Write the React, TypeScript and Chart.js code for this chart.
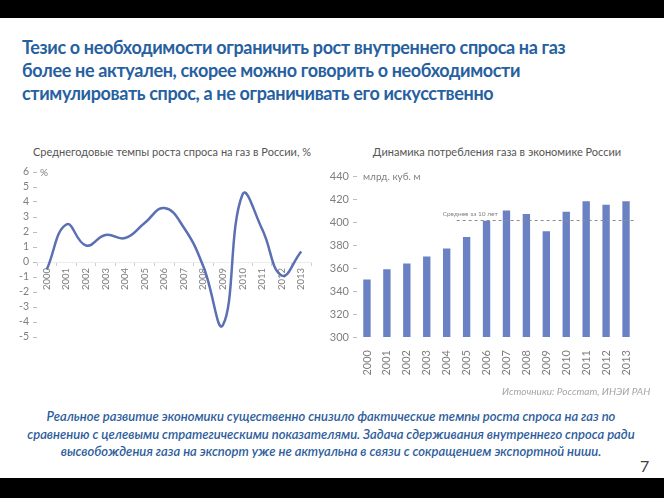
import React, { useEffect, useRef } from 'react';
import { Chart, registerables } from 'chart.js';

Chart.register(...registerables);

// ---- data ----
const years = ['2000', '2001', '2002', '2003', '2004', '2005', '2006', '2007', '2008', '2009', '2010', '2011', '2012', '2013'];
const growthPct = [-0.5, 2.5, 1.1, 1.8, 1.6, 2.6, 3.6, 2.3, -0.3, -4.2, 4.5, 2.2, -0.9, 0.7];
const growthMin = -5;
const growthMax = 6;
const growthStep = 1;

const consumption = [350, 359, 364, 370, 377, 387, 401, 410, 407, 392, 409, 418, 415, 418];
const consumptionMin = 300;
const consumptionMax = 440;
const consumptionStep = 20;
const tenYearAverage = 401.5;
const averageFromIndex = 4.5;
const averageLabel = 'Среднее за 10 лет';

const titleLines = [
  'Тезис о необходимости ограничить рост внутреннего спроса на газ',
  'более не актуален, скорее можно говорить о необходимости',
  'стимулировать спрос, а не ограничивать его искусственно',
];
const leftTitle = 'Среднегодовые темпы роста спроса на газ в России, %';
const rightTitle = 'Динамика потребления газа в экономике России';
const leftUnit = '%';
const rightUnit = 'млрд. куб. м';
const sourceText = 'Источники: Росстат, ИНЭИ РАН';
const bottomLines = [
  'Реальное развитие экономики существенно снизило фактические темпы роста спроса на газ по',
  'сравнению с целевыми стратегическими показателями. Задача сдерживания внутреннего спроса ради',
  'высвобождения газа на экспорт уже не актуальна в связи с сокращением экспортной ниши.',
];
const pageNumber = '7';

const FONT = 'Lato, "Open Sans", "Noto Sans", sans-serif';
const GRAY = '#7f7f7f';
const BLUE = '#27609f';

Chart.defaults.font.family = FONT;

const averageLinePlugin = {
  id: 'averageLine',
  afterDatasetsDraw(chart: any) {
    const { ctx, scales } = chart;
    const x = scales.x;
    const y = scales.y;
    const yy = Math.round(y.getPixelForValue(tenYearAverage)) + 0.5;
    const step = x.getPixelForValue(1) - x.getPixelForValue(0);
    const x0 = x.getPixelForValue(Math.floor(averageFromIndex)) + step * (averageFromIndex - Math.floor(averageFromIndex));
    const x1 = x.right;
    ctx.save();
    ctx.strokeStyle = '#8c8c8c';
    ctx.lineWidth = 1;
    ctx.setLineDash([3, 3]);
    ctx.beginPath();
    ctx.moveTo(x0, yy);
    ctx.lineTo(x1, yy);
    ctx.stroke();
    ctx.setLineDash([]);
    ctx.font = `6.5px ${FONT}`;
    ctx.fillStyle = '#808080';
    ctx.textBaseline = 'middle';
    ctx.textAlign = 'left';
    ctx.fillText(averageLabel, x0 - 14, yy - 7);
    ctx.restore();
  },
};

function GrowthChart() {
  const ref = useRef<HTMLCanvasElement>(null);
  useEffect(() => {
    const chart = new Chart(ref.current as HTMLCanvasElement, {
      type: 'line',
      data: {
        labels: years,
        datasets: [
          {
            data: growthPct,
            borderColor: '#5b6fb3',
            borderWidth: 2.5,
            tension: 0.45,
            pointRadius: 0,
            fill: false,
          },
        ],
      },
      options: {
        animation: false,
        responsive: false,
        maintainAspectRatio: false,
        layout: { padding: { left: 0, right: 19, top: 12, bottom: 13 } },
        plugins: { legend: { display: false }, tooltip: { enabled: false } },
        scales: {
          x: {
            position: { y: 0 } as any,
            offset: true,
            grid: { display: true, drawOnChartArea: false, tickLength: 3, color: '#d0d0d0', offset: true },
            border: { display: true, color: '#ececec' },
            ticks: { autoSkip: false, minRotation: 90, maxRotation: 90, color: GRAY, font: { size: 9.5 }, padding: 3 },
          },
          y: {
            min: growthMin,
            max: growthMax,
            ticks: { stepSize: growthStep, autoSkip: false, color: GRAY, font: { size: 10.5 }, padding: 4 },
            grid: { drawOnChartArea: false, tickLength: 4, color: '#bdbdbd' },
            border: { display: false },
            afterFit: (s: any) => {
              s.width = 37;
            },
          },
        },
      },
    });
    return () => chart.destroy();
  }, []);
  return <canvas ref={ref} width={330} height={190} style={{ position: 'absolute', left: 0, top: 160, width: 330, height: 190 }} />;
}

function ConsumptionChart() {
  const ref = useRef<HTMLCanvasElement>(null);
  useEffect(() => {
    const chart = new Chart(ref.current as HTMLCanvasElement, {
      type: 'bar',
      data: {
        labels: years,
        datasets: [
          {
            data: consumption,
            backgroundColor: '#6a82c3',
            categoryPercentage: 1,
            barPercentage: 0.37,
          },
        ],
      },
      options: {
        animation: false,
        responsive: false,
        maintainAspectRatio: false,
        layout: { padding: { left: 0, right: 28, top: 16, bottom: 13 } },
        plugins: { legend: { display: false }, tooltip: { enabled: false } },
        scales: {
          x: {
            grid: { display: false },
            border: { display: false },
            ticks: { autoSkip: false, minRotation: 90, maxRotation: 90, color: GRAY, font: { size: 11 }, padding: 5 },
            afterFit: (s: any) => {
              s.height = 40;
            },
          },
          y: {
            min: consumptionMin,
            max: consumptionMax,
            ticks: { stepSize: consumptionStep, autoSkip: false, color: GRAY, font: { size: 11 }, padding: 4 },
            grid: { drawOnChartArea: false, tickLength: 4, color: '#bdbdbd' },
            border: { display: false },
            afterFit: (s: any) => {
              s.width = 37;
            },
          },
        },
      },
      plugins: [averageLinePlugin],
    });
    return () => chart.destroy();
  }, []);
  return <canvas ref={ref} width={344} height={230} style={{ position: 'absolute', left: 320, top: 160, width: 344, height: 230 }} />;
}

export default function App() {
  const abs = (s: React.CSSProperties): React.CSSProperties => ({ position: 'absolute', whiteSpace: 'nowrap', fontFamily: FONT, ...s });
  return (
    <div style={{ position: 'fixed', left: 0, top: 0, width: 664, height: 498, background: '#fff', overflow: 'hidden' }}>
      <div style={{ position: 'absolute', left: 0, top: 0, width: 664, height: 18, background: '#000' }} />
      {titleLines.map((t, i) => (
        <div key={i} style={abs({ left: 22, top: 36 + i * 23, height: 23, lineHeight: '23px', fontSize: 18, fontWeight: 700, color: BLUE, letterSpacing: -0.35 })}>
          {t}
        </div>
      ))}
      <div style={abs({ left: 12, top: 144, width: 320, textAlign: 'center', fontSize: 11, lineHeight: '16px', color: '#555' })}>{leftTitle}</div>
      <div style={abs({ left: 347, top: 144, width: 300, textAlign: 'center', fontSize: 11, lineHeight: '16px', color: '#555' })}>{rightTitle}</div>
      <GrowthChart />
      <ConsumptionChart />
      <div style={abs({ left: 40, top: 165, fontSize: 10, lineHeight: '14px', color: GRAY })}>{leftUnit}</div>
      <div style={abs({ left: 363, top: 169, fontSize: 10, lineHeight: '14px', color: GRAY })}>{rightUnit}</div>
      <div style={abs({ left: 502, top: 384, fontSize: 10, lineHeight: '14px', color: '#a6a6a6', fontStyle: 'italic' })}>{sourceText}</div>
      {bottomLines.map((t, i) => (
        <div key={i} style={abs({ left: 0, width: 662, top: 407 + i * 17.5, textAlign: 'center', fontSize: 13, lineHeight: '18px', color: '#2d5d9c', fontStyle: 'italic', fontWeight: 600 })}>
          {t}
        </div>
      ))}
      <div style={abs({ left: 640, top: 456, fontSize: 16, lineHeight: '20px', color: '#404040' })}>{pageNumber}</div>
      <div style={{ position: 'absolute', left: 0, top: 478, width: 664, height: 20, background: '#000' }} />
    </div>
  );
}
